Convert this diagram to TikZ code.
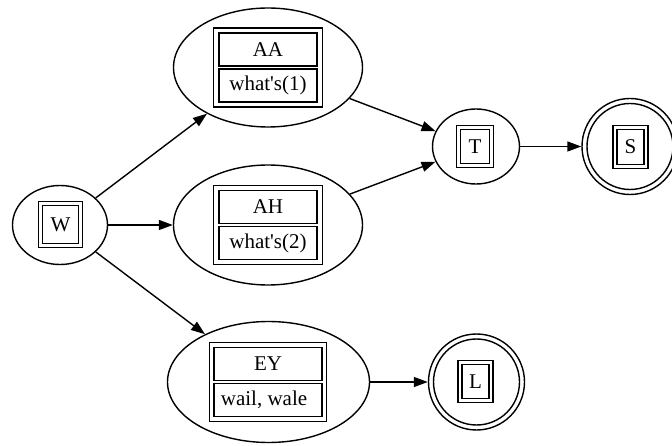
\documentclass[tikz,border=0pt]{standalone}
\usepackage{fontspec}
\setmainfont{Liberation Serif}[Ligatures=TeXOff]
\usetikzlibrary{shapes.geometric,arrows.meta}
\begin{document}
\begin{tikzpicture}[x=1pt,y=-1pt,
  lw/.style={line width=1.4pt},
  oval/.style={draw,lw,ellipse,inner sep=0pt},
  ring/.style={draw,lw,circle,inner sep=0pt},
  frame/.style={draw,lw,rectangle,inner sep=0pt},
  cell/.style={draw,lw,rectangle,inner sep=0pt,font=\fontsize{21}{25}\selectfont},
  link/.style={lw,-{Triangle[length=14pt,width=10pt]}}]
\path[use as bounding box,clip] (0,0) rectangle (672,446);

% outer shapes of the states
\node[oval,minimum width=95pt,minimum height=79pt] (W) at (60,225) {};
\node[oval,minimum width=189pt,minimum height=119pt] (AA) at (268,67.5) {};
\node[oval,minimum width=189pt,minimum height=120pt] (AH) at (268,225) {};
\node[oval,minimum width=202pt,minimum height=121pt] (EY) at (268.5,382) {};
\node[oval,minimum width=87pt,minimum height=75pt] (T) at (476,146.5) {};
\node[ring,minimum size=96pt] (S) at (630,146.5) {};
\node[ring,minimum size=86pt] (Sin) at (630,146.5) {};
\node[ring,minimum size=96pt] (L) at (476.5,382) {};
\node[ring,minimum size=86pt] (Lin) at (476.5,382) {};

% single-letter boxes
\node[frame,minimum width=44pt,minimum height=46pt] (Wf) at (60.5,224.5) {};
\node[cell,minimum width=36pt,minimum height=38pt] (Wc) at (60.5,224.5) {W};
\node[frame,minimum width=37pt,minimum height=42pt] (Tf) at (475,146.5) {};
\node[cell,minimum width=29pt,minimum height=34pt] (Tc) at (475,146.5) {T};
\node[frame,minimum width=35pt,minimum height=43pt] (Sf) at (630.5,147) {};
\node[cell,minimum width=27pt,minimum height=35pt] (Sc) at (630.5,147) {S};
\node[frame,minimum width=35pt,minimum height=42pt] (Lf) at (475.5,381.5) {};
\node[cell,minimum width=27pt,minimum height=34pt] (Lc) at (475.5,381.5) {L};

% two-row tables
\node[frame,minimum width=109pt,minimum height=79pt] (AAf) at (268,67.5) {};
\node[cell,minimum width=98pt,minimum height=33pt] (AAa) at (268,49.5) {AA};
\node[cell,minimum width=98pt,minimum height=33pt] (AAb) at (268,85.5) {what's(1)};

\node[frame,minimum width=109pt,minimum height=79pt] (AHf) at (268,225) {};
\node[cell,minimum width=98pt,minimum height=33pt] (AHa) at (268,207) {AH};
\node[cell,minimum width=98pt,minimum height=33pt] (AHb) at (268,243) {what's(2)};

\node[frame,minimum width=117pt,minimum height=79pt] (EYf) at (268,382) {};
\node[cell,minimum width=108pt,minimum height=33pt] (EYa) at (268,364) {EY};
\node[cell,minimum width=108pt,minimum height=33pt] (EYb) at (268,400) {wail, wale\hspace*{8pt}};

% transitions
\draw[link] (W) -- (AA);
\draw[link] (W) -- (AH);
\draw[link] (W) -- (EY);
\draw[link] (AA) -- (T);
\draw[link] (AH) -- (T);
\draw[link] (T) -- (S);
\draw[link] (EY) -- (L);
\end{tikzpicture}
\end{document}
